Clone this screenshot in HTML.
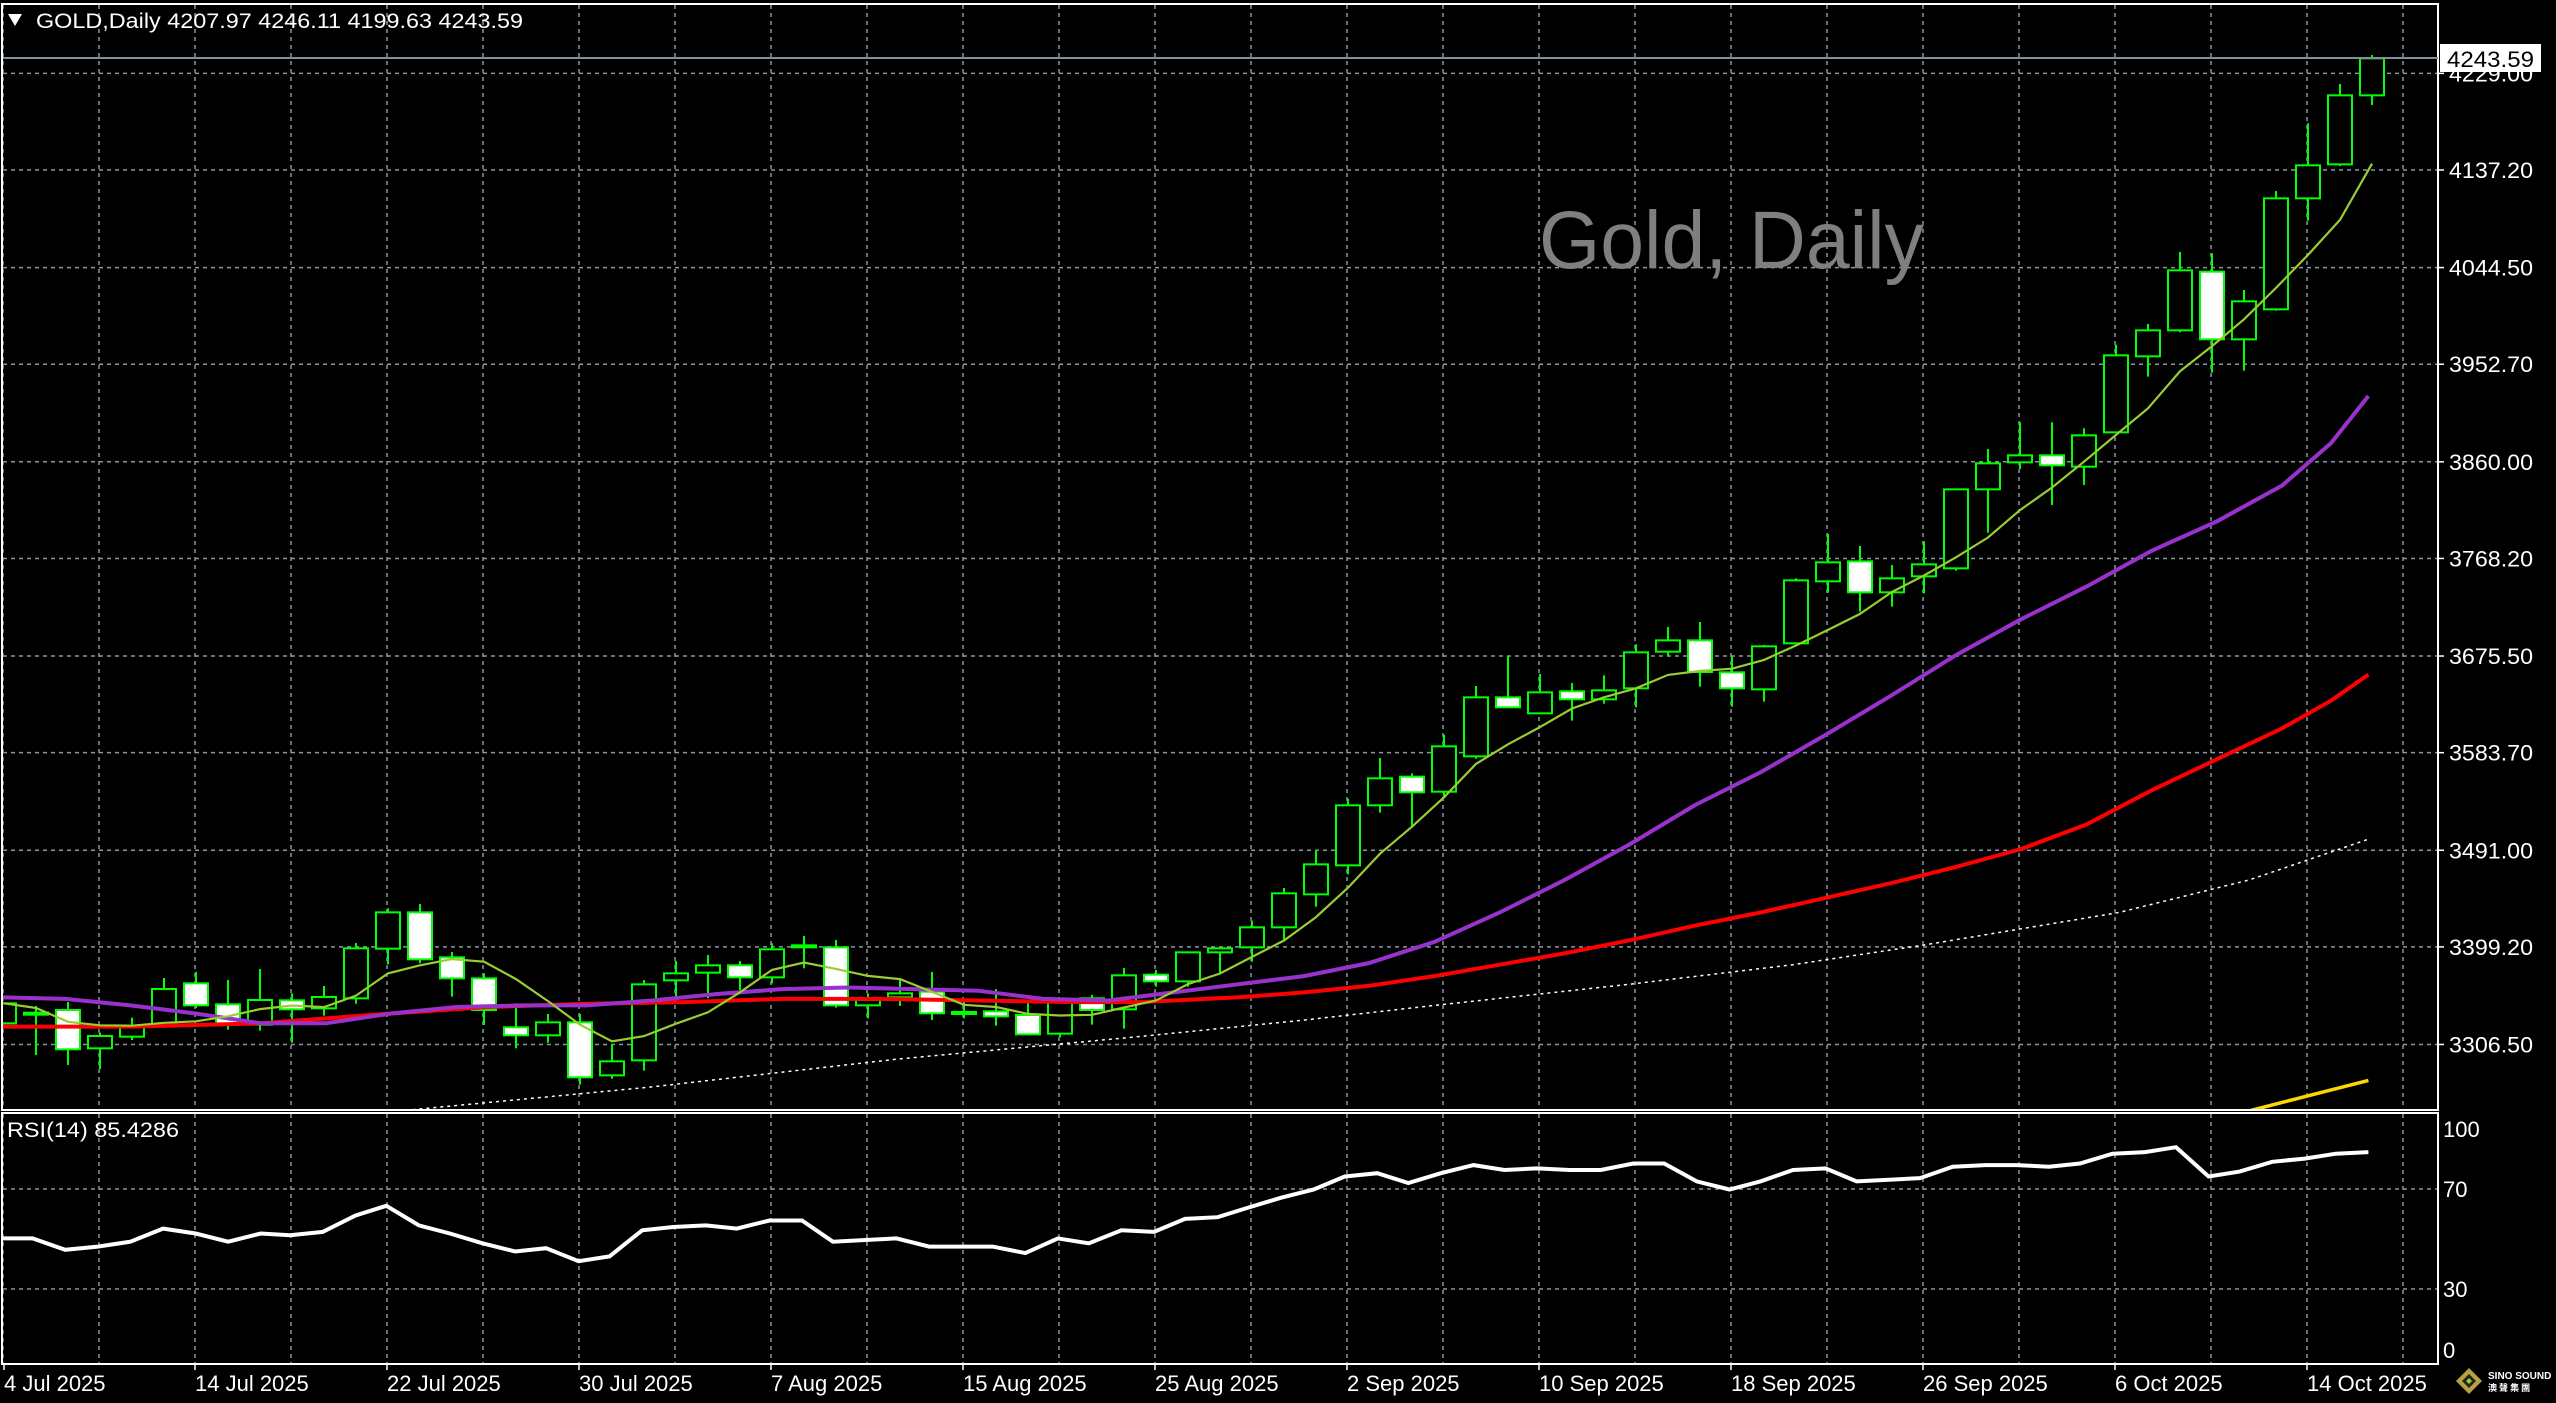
<!DOCTYPE html>
<html><head><meta charset="utf-8"><style>
html,body{margin:0;padding:0;background:#000;}
svg{display:block;}
text{font-family:"Liberation Sans",sans-serif;fill:#fff;}
</style></head><body>
<svg id="s" width="2556" height="1403" viewBox="0 0 2556 1403" xmlns="http://www.w3.org/2000/svg">
<rect width="2556" height="1403" fill="#000"/>
<defs>
<clipPath id="cm"><rect x="3" y="5" width="2435" height="1105"/></clipPath>
<clipPath id="cr"><rect x="3" y="1114" width="2435" height="250"/></clipPath>
</defs>
<g id="grid"></g>
<text x="1539" y="268" font-size="82" style="fill:#7f7f7f" textLength="385" lengthAdjust="spacingAndGlyphs">Gold, Daily</text>
<g id="candles" clip-path="url(#cm)"></g>
<g id="lines" clip-path="url(#cm)"></g>
<g id="rsi" clip-path="url(#cr)"></g>
<g id="axis"></g>
<rect x="2" y="4" width="2436" height="1106" fill="none" stroke="#fff" stroke-width="2"/>
<rect x="2" y="1113" width="2436" height="251" fill="none" stroke="#fff" stroke-width="2"/>
<polygon points="8,14 22,14 15,26" fill="#fff"/>
<text x="36" y="28" font-size="21" textLength="487" lengthAdjust="spacingAndGlyphs">GOLD,Daily  4207.97 4246.11 4199.63 4243.59</text>
<text x="7" y="1137" font-size="21" textLength="172" lengthAdjust="spacingAndGlyphs">RSI(14) 85.4286</text>
<line x1="3" y1="58" x2="2438" y2="58" stroke="#8090a0" stroke-width="2"/>
<rect x="2440" y="44" width="101" height="28" fill="#fff"/>
<text x="2447" y="67" font-size="22" style="fill:#000" textLength="87" lengthAdjust="spacingAndGlyphs">4243.59</text>
<g transform="translate(2469,1381)">
<polygon points="0,-13 13,0 0,13 -13,0" fill="#b8a040"/>
<polygon points="0,-7 7,0 0,7 -7,0" fill="#222"/>
<polygon points="0,-3 3,0 0,3 -3,0" fill="#9acd32"/>
</g>
<text x="2488" y="1379" font-size="10" font-weight="bold">SINO SOUND</text>
<text x="2488" y="1391" font-size="9" font-weight="bold" style="font-family:'Noto Sans CJK TC',sans-serif">澳 聲 集 團</text>
</svg>
<script>
var NS="http://www.w3.org/2000/svg";
function el(p,t,a,txt){var e=document.createElementNS(NS,t);for(var k in a)e.setAttribute(k,a[k]);if(txt!==undefined)e.textContent=txt;p.appendChild(e);return e;}
var grid=document.getElementById('grid'),axis=document.getElementById('axis'),lines=document.getElementById('lines'),cg=document.getElementById('candles'),rg=document.getElementById('rsi');
function py(p){return 58+(4243.59-p)*1.0527;}
var gc="#8a96a6";
var lv=[4229.00,4137.20,4044.50,3952.70,3860.00,3768.20,3675.50,3583.70,3491.00,3399.20,3306.50];
lv.forEach(function(p){var y=py(p);el(grid,'line',{x1:3,y1:y,x2:2438,y2:y,stroke:gc,'stroke-width':1.5,'stroke-dasharray':'4,4'});
 el(axis,'line',{x1:2438,y1:y,x2:2444,y2:y,stroke:'#fff','stroke-width':1.5});
 el(axis,'text',{x:2449,y:y+8,'font-size':22,textLength:84,lengthAdjust:'spacingAndGlyphs'},p.toFixed(2));});
for(var x=2403;x>0;x-=96){el(grid,'line',{x1:x,y1:5,x2:x,y2:1110,stroke:gc,'stroke-width':1.5,'stroke-dasharray':'4,4'});
 el(grid,'line',{x1:x,y1:1114,x2:x,y2:1364,stroke:gc,'stroke-width':1.5,'stroke-dasharray':'4,4'});}
[[70,1189],[30,1289]].forEach(function(a){el(grid,'line',{x1:3,y1:a[1],x2:2438,y2:a[1],stroke:gc,'stroke-width':1.5,'stroke-dasharray':'4,4'});});
[["100",1129],["70",1189],["30",1289],["0",1350]].forEach(function(a){el(axis,'text',{x:2443,y:a[1]+8,'font-size':22},a[0]);});
var dl=["4 Jul 2025","14 Jul 2025","22 Jul 2025","30 Jul 2025","7 Aug 2025","15 Aug 2025","25 Aug 2025","2 Sep 2025","10 Sep 2025","18 Sep 2025","26 Sep 2025","6 Oct 2025","14 Oct 2025"];
dl.forEach(function(t,k){var x=2307-192*(12-k);if(x<4)x=4;el(axis,'line',{x1:x,y1:1364,x2:x,y2:1370,stroke:'#fff','stroke-width':1.5});
 el(axis,'text',{x:x,y:1391,'font-size':22},t);});
var D=[
[880,[[0,'G',370,430,370,430],[1,'G',398,402,378,525],[2,'W',390,508,366,555],[3,'G',468,505,458,567],[4,'G',441,470,413,480],[5,'G',327,437,294,443],[6,'W',310,376,276,384],[7,'W',373,432,300,449],[8,'G',360,434,267,452],[9,'W',361,388,340,488],[10,'G',351,385,318,407],[11,'G',205,355,189,371],[12,'G',97,206,85,253],[13,'W',97,238,72,250],[14,'W',232,295,216,350],[15,'W',295,390,280,435],[16,'W',442,466,370,505],[17,'G',427,466,402,488],[18,'W',427,592,402,614],[19,'G',544,586,492,596],[20,'G',313,541,300,572],[21,'G',280,301,243,372],[22,'G',256,278,225,355],[23,'W',256,292,243,330],[24,'G',208,292,190,310],[25,'W',196,202,168,265],[26,'W',202,376,180,383],[27,'G',360,376,340,415],[28,'G',340,352,297,378],[29,'W',335,400,276,420],[30,'G',396,399,365,415],[31,'W',394,409,327,437],[32,'W',405,463,365,463],[33,'G',364,461,355,472],[34,'W',355,390,345,434],[35,'G',286,388,264,446]]],
[600,[[36,'W',1124,1144,1110,1160],[37,'G',1057,1144,1057,1160],[38,'G',1045,1057,1045,1120],[39,'G',982,1042,962,1085],[40,'G',880,982,864,1020],[41,'G',793,883,753,920],[42,'G',616,796,596,823],[43,'G',535,616,474,638],[44,'W',530,577,520,680],[45,'G',439,575,404,590],[46,'G',292,469,258,476],[47,'W',292,322,168,322],[48,'G',277,340,222,340],[49,'W',274,298,249,362],[50,'G',271,298,226,311],[51,'G',157,265,133,322],[52,'G',121,155,81,170],[53,'W',121,216,66,260],[54,'W',217,265,170,320],[55,'G',139,268,135,305]]],
[230,[[56,'G',1051,1240,1045,1240],[57,'G',997,1054,912,1088],[58,'W',994,1087,948,1145],[59,'G',1045,1087,1005,1130],[60,'G',1003,1039,934,1090],[61,'G',778,1015,778,1022],[62,'G',700,778,657,908],[63,'G',676,697,577,717],[64,'W',676,706,577,825],[65,'G',616,710,595,765],[66,'G',376,607,344,607]]],
[0,[[67,'G',991,1069,972,1130],[68,'G',811,991,756,997],[69,'W',815,1018,760,1118],[70,'G',904,1018,870,1112],[71,'G',595,928,573,932],[72,'G',496,595,370,662],[73,'G',286,493,252,498],[74,'G',175,286,165,315]]]];
var closes=[];
D.forEach(function(g){var o=g[0];g[1].forEach(function(c){
 var i=c[0],x=4+32*i,t=o+c[2]/3,b=o+c[3]/3,h=o+c[4]/3,l=o+c[5]/3;
 closes[i]=c[1]=='G'?t:b;
 el(cg,'line',{x1:x,y1:h,x2:x,y2:l,stroke:'#00ff00','stroke-width':2});
 var hh=Math.max(b-t,2);
 el(cg,'rect',{x:x-12,y:t,width:24,height:hh,fill:c[1]=='W'?'#fff':'#000',stroke:'#00ff00','stroke-width':2});
});});
var pts=[];for(var i=0;i<closes.length;i++){var s=0,n=0;for(var j=Math.max(0,i-4);j<=i;j++){s+=closes[j];n++;}pts.push((4+32*i)+','+(s/n).toFixed(1));}
function dpoly(arr,attrs){var p=arr.map(function(a){return (a[0]*1.630).toFixed(1)+','+(a[1]*1.6295).toFixed(1);}).join(' ');attrs.points=p;attrs.fill='none';return attrs;}
el(lines,'polyline',dpoly([[253,681],[400,667],[550,650],[700,636],[800,626],[880,617],[1000,604],[1100,592],[1180,580],[1300,560],[1380,540],[1453,515]],{stroke:'#fff','stroke-width':1.5,'stroke-dasharray':'3,4'}));
el(lines,'polyline',dpoly([[1375,683],[1453,663]],{stroke:'#ffd700','stroke-width':3.5}));
el(lines,'polyline',dpoly([[0,630],[80,630],[160,628],[240,622],[300,618],[360,616],[420,615],[480,613],[540,613],[600,614],[660,615],[700,615],[760,612],[800,609],[840,605],[880,599],[920,592],[960,585],[1000,577],[1040,568],[1080,560],[1120,551],[1160,542],[1200,532],[1240,521],[1280,506],[1320,485],[1360,466],[1400,447],[1430,430],[1453,414]],{stroke:'#ff0000','stroke-width':4}));
el(lines,'polyline',dpoly([[0,612],[40,613],[80,617],[120,622],[160,628],[200,628],[240,622],[280,618],[320,617],[360,617],[400,614],[440,610],[480,607],[520,606],[560,607],[600,608],[640,613],[680,614],[720,609],[760,604],[800,599],[840,591],[880,578],[920,560],[960,540],[1000,518],[1040,494],[1080,474],[1120,451],[1160,427],[1200,402],[1240,380],[1280,360],[1320,338],[1360,320],[1400,298],[1430,272],[1453,243]],{stroke:'#9932cc','stroke-width':4}));
el(lines,'polyline',{points:pts.join(' '),fill:'none',stroke:'#9acd32','stroke-width':2.2});
var r=[[0,760],[20,760],[40,767],[60,765],[80,762],[100,754],[120,757],[140,762],[160,757],[178,758],[198,756],[218,746],[237,740],[257,752],[276,757],[296,763],[316,768],[335,766],[355,774],[374,771],[394,755],[413,753],[433,752],[452,754],[472,749],[492,749],[511,762],[531,761],[550,760],[570,765],[590,765],[609,765],[629,769],[649,760],[668,763],[688,755],[708,756],[727,748],[747,747],[766,741],[786,735],[806,730],[825,722],[845,720],[864,726],[884,720],[904,715],[923,718],[943,717],[963,718],[982,718],[1002,714],[1021,714],[1041,725],[1061,730],[1080,725],[1100,718],[1120,717],[1139,725],[1159,724],[1178,723],[1198,716],[1218,715],[1237,715],[1257,716],[1276,714],[1296,708],[1316,707],[1335,704],[1355,722],[1374,719],[1394,713],[1414,711],[1433,708],[1453,707]];
el(rg,'polyline',dpoly(r,{stroke:'#fff','stroke-width':4}));
</script>
</body></html>
